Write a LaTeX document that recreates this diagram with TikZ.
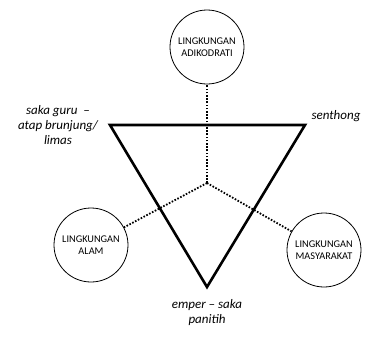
\documentclass[tikz,border=0pt]{standalone}
\usepackage{fontspec}
\setmainfont{Carlito}
\begin{document}
\begin{tikzpicture}[x=1pt,y=-1pt,
  env/.style={circle,draw,line width=0.8pt,minimum size=74pt,inner sep=0pt,align=center,font=\fontsize{10.3}{12.5}\selectfont},
  lbl/.style={align=center,font=\fontsize{13}{15}\selectfont\itshape},
  dots/.style={line width=1.8pt,dash pattern=on 1.6pt off 1.6pt}]
\useasboundingbox (0,0) rectangle (368,338);
\coordinate (tl) at (110,125);
\coordinate (tr) at (305,125);
\coordinate (bt) at (207,287);
\coordinate (c) at (207,183);
\node[env] (top) at (207,47) {LINGKUNGAN\\ADIKODRATI};
\node[env] (left) at (91,245) {LINGKUNGAN\\ALAM};
\node[env] (right) at (324,250) {LINGKUNGAN\\MASYARAKAT};
\draw[dots] (c) -- (top);
\draw[dots] (c) -- (left);
\draw[dots] (c) -- (right);
\draw[line width=2.6pt,line join=miter] (tl) -- (tr) -- (bt) -- cycle;
\node[lbl] (l1) at (58,125) {saka guru~ --\\atap brunjung/\\limas};
\node[lbl,anchor=south west] (l2) at (308,125) {senthong};
\node[lbl] (l3) at (207,313) {emper -- saka\\panitih};
\end{tikzpicture}
\end{document}
